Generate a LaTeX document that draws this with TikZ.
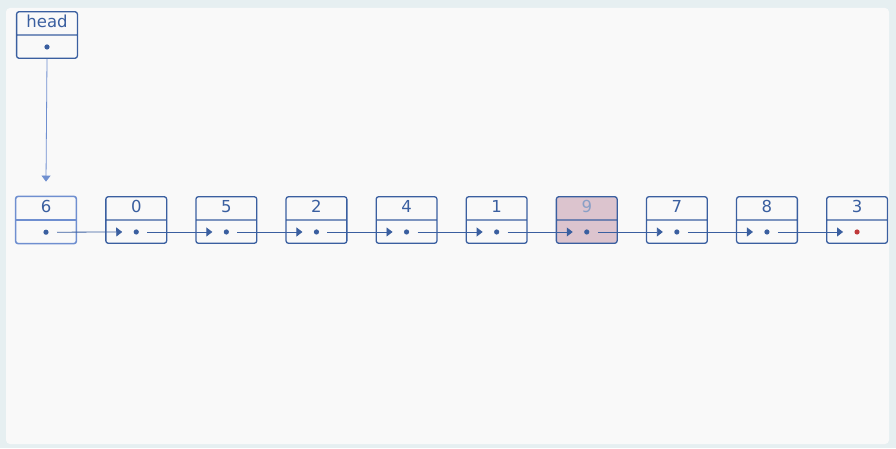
\documentclass[tikz,border=0pt]{standalone}
\usepackage{fontspec}
\setsansfont{DejaVu Sans}
\usetikzlibrary{arrows.meta, positioning, shapes.multipart, calc}

\definecolor{lnblue}{HTML}{3A5FA0}
\definecolor{headblue}{HTML}{6F8FD0}
\definecolor{hilite}{HTML}{DCC4CE}
\definecolor{tailred}{HTML}{C0393B}
\definecolor{paper}{HTML}{F9F9F9}
\definecolor{rim}{HTML}{E6EFF1}

% empty pointer field of a cell, as tall as the value field
\newcommand{\ptrfield}{\vrule width 0pt height 12pt depth 3pt}

\begin{document}
\begin{tikzpicture}[
    x=1pt, y=1pt,
    cell/.style={rectangle split, rectangle split parts=2, draw=lnblue, line width=1.3pt,
        rounded corners=2.5pt, text width=52.8pt, inner xsep=4pt, inner ysep=3.5pt,
        text height=12pt, text depth=3pt, align=center, text=lnblue,
        font=\sffamily\fontsize{16.5}{16.5}\selectfont},
    link/.style={-{Triangle[length=6pt, width=9pt]}, lnblue, line width=0.8pt},
    dot/.style={fill=lnblue}
]
% page and margins
\fill[rim] (0,0) rectangle (896,448);
\fill[paper, rounded corners=4pt] (6,4) rectangle (889,440);
\useasboundingbox (0,0) rectangle (896,448);

% head pointer
\node[cell] (head) at (47,413) {head \nodepart{two}\ptrfield};

% list nodes
\node[cell, draw=headblue, line width=1.6pt] (n6) at (46,228) {6 \nodepart{two}\ptrfield};
\node[cell, right=28pt of n6] (n0) {0 \nodepart{two}\ptrfield};
\node[cell, right=28pt of n0] (n5) {5 \nodepart{two}\ptrfield};
\node[cell, right=28pt of n5] (n2) {2 \nodepart{two}\ptrfield};
\node[cell, right=28pt of n2] (n4) {4 \nodepart{two}\ptrfield};
\node[cell, right=28pt of n4] (n1) {1 \nodepart{two}\ptrfield};
\node[cell, fill=hilite, text=lnblue!60, right=28pt of n1] (n9) {9 \nodepart{two}\ptrfield};
\node[cell, right=28pt of n9] (n7) {7 \nodepart{two}\ptrfield};
\node[cell, right=28pt of n7] (n8) {8 \nodepart{two}\ptrfield};
\node[cell, right=28pt of n8] (n3) {3 \nodepart{two}\ptrfield};

% pointer fields
\coordinate (phead) at ($(head.one split)!.5!(head.south)$);
\foreach \k in {6,0,5,2,4,1,9,7,8,3}
    \coordinate (p\k) at ($(n\k.one split)!.5!(n\k.south)$);

% next pointers
\draw[link, headblue] (head.south) -- ([yshift=14pt]n6.north);
\draw[link] ([xshift=11pt]p6) -- ([xshift=-14pt]p0);
\draw[link] ([xshift=11pt]p0) -- ([xshift=-14pt]p5);
\draw[link] ([xshift=11pt]p5) -- ([xshift=-14pt]p2);
\draw[link] ([xshift=11pt]p2) -- ([xshift=-14pt]p4);
\draw[link] ([xshift=11pt]p4) -- ([xshift=-14pt]p1);
\draw[link] ([xshift=11pt]p1) -- ([xshift=-14pt]p9);
\draw[link] ([xshift=11pt]p9) -- ([xshift=-14pt]p7);
\draw[link] ([xshift=11pt]p7) -- ([xshift=-14pt]p8);
\draw[link] ([xshift=11pt]p8) -- ([xshift=-14pt]p3);

% dots
\foreach \k in {head,6,0,5,2,4,1,9,7,8}
    \fill[dot] (p\k) circle (2.6pt);
\fill[tailred] (p3) circle (2.6pt);
\end{tikzpicture}
\end{document}
